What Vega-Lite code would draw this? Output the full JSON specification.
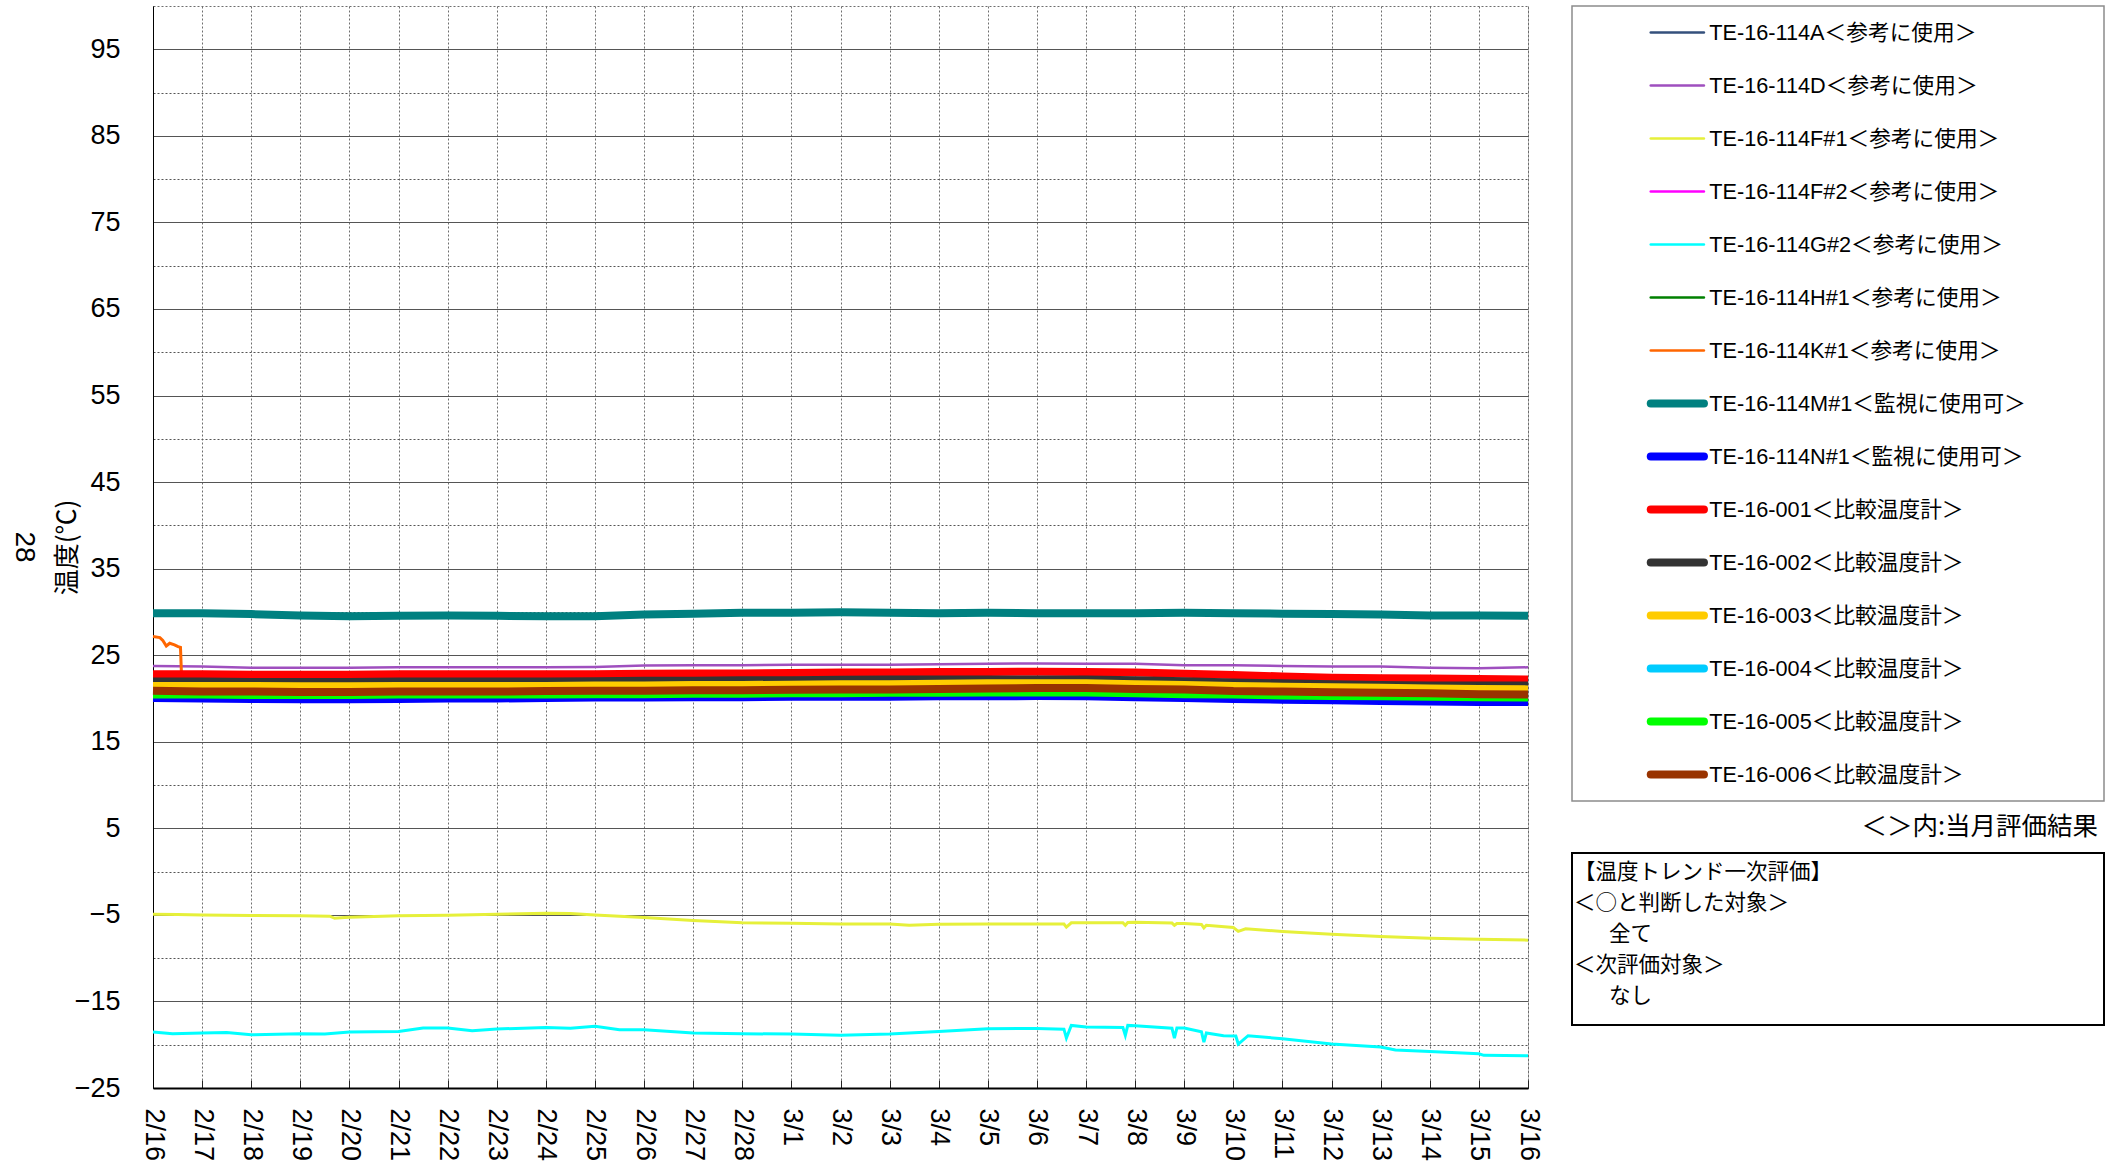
{
  "$schema": "https://vega.github.io/schema/vega-lite/v6.json",
  "description": "Temperature trend 2/16-3/16 for TE-16 thermometers, with legend and evaluation note.",
  "padding": {"left": 9, "top": 5, "right": 5, "bottom": 5},
  "background": "white",
  "config": {
    "font": "Liberation Sans, Noto Sans CJK JP, sans-serif",
    "view": {"stroke": null}
  },
  "datasets": {
    "band": [
      {"t": "2023-02-16T00:00", "M1": 29.85, "D": 23.75, "c1": 22.8, "c2": 21.95, "c3": 21.45, "c6": 20.9, "c5": 20.45, "N1": 20.05, "c4": 20.85, "A": 21.9, "F2": 21.6, "H1": 20.5},
      {"t": "2023-02-17T00:00", "M1": 29.85, "D": 23.7, "c1": 22.8, "c2": 21.95, "c3": 21.45, "c6": 20.8, "c5": 20.45, "N1": 20.0, "c4": 20.8, "A": 21.9, "F2": 21.55, "H1": 20.45},
      {"t": "2023-02-18T00:00", "M1": 29.75, "D": 23.55, "c1": 22.75, "c2": 21.9, "c3": 21.45, "c6": 20.8, "c5": 20.4, "N1": 19.95, "c4": 20.8, "A": 21.85, "F2": 21.55, "H1": 20.4},
      {"t": "2023-02-19T00:00", "M1": 29.6, "D": 23.55, "c1": 22.75, "c2": 21.9, "c3": 21.4, "c6": 20.75, "c5": 20.4, "N1": 19.9, "c4": 20.75, "A": 21.85, "F2": 21.5, "H1": 20.4},
      {"t": "2023-02-20T00:00", "M1": 29.5, "D": 23.55, "c1": 22.75, "c2": 21.9, "c3": 21.4, "c6": 20.75, "c5": 20.4, "N1": 19.9, "c4": 20.75, "A": 21.85, "F2": 21.5, "H1": 20.4},
      {"t": "2023-02-21T00:00", "M1": 29.55, "D": 23.6, "c1": 22.8, "c2": 21.95, "c3": 21.45, "c6": 20.8, "c5": 20.45, "N1": 19.95, "c4": 20.8, "A": 21.9, "F2": 21.55, "H1": 20.45},
      {"t": "2023-02-22T00:00", "M1": 29.6, "D": 23.6, "c1": 22.8, "c2": 21.95, "c3": 21.45, "c6": 20.8, "c5": 20.45, "N1": 20.0, "c4": 20.8, "A": 21.9, "F2": 21.55, "H1": 20.45},
      {"t": "2023-02-23T00:00", "M1": 29.55, "D": 23.6, "c1": 22.8, "c2": 21.95, "c3": 21.45, "c6": 20.8, "c5": 20.45, "N1": 20.0, "c4": 20.8, "A": 21.9, "F2": 21.55, "H1": 20.45},
      {"t": "2023-02-24T00:00", "M1": 29.5, "D": 23.6, "c1": 22.8, "c2": 21.95, "c3": 21.45, "c6": 20.85, "c5": 20.45, "N1": 20.05, "c4": 20.85, "A": 21.9, "F2": 21.55, "H1": 20.45},
      {"t": "2023-02-25T00:00", "M1": 29.5, "D": 23.65, "c1": 22.8, "c2": 21.98, "c3": 21.5, "c6": 20.9, "c5": 20.5, "N1": 20.1, "c4": 20.9, "A": 21.95, "F2": 21.6, "H1": 20.5},
      {"t": "2023-02-26T00:00", "M1": 29.7, "D": 23.8, "c1": 22.85, "c2": 22.05, "c3": 21.5, "c6": 20.9, "c5": 20.5, "N1": 20.1, "c4": 20.9, "A": 22.0, "F2": 21.6, "H1": 20.5},
      {"t": "2023-02-27T00:00", "M1": 29.8, "D": 23.85, "c1": 22.9, "c2": 22.05, "c3": 21.55, "c6": 20.95, "c5": 20.55, "N1": 20.15, "c4": 20.95, "A": 22.0, "F2": 21.65, "H1": 20.55},
      {"t": "2023-02-28T00:00", "M1": 29.9, "D": 23.85, "c1": 22.9, "c2": 22.1, "c3": 21.55, "c6": 20.95, "c5": 20.55, "N1": 20.15, "c4": 20.95, "A": 22.05, "F2": 21.65, "H1": 20.55},
      {"t": "2023-03-01T00:00", "M1": 29.9, "D": 23.9, "c1": 22.95, "c2": 22.1, "c3": 21.6, "c6": 21.0, "c5": 20.6, "N1": 20.2, "c4": 21.0, "A": 22.05, "F2": 21.7, "H1": 20.6},
      {"t": "2023-03-02T00:00", "M1": 29.95, "D": 23.9, "c1": 23.0, "c2": 22.15, "c3": 21.65, "c6": 21.05, "c5": 20.6, "N1": 20.2, "c4": 21.05, "A": 22.1, "F2": 21.75, "H1": 20.6},
      {"t": "2023-03-03T00:00", "M1": 29.9, "D": 23.9, "c1": 23.0, "c2": 22.2, "c3": 21.65, "c6": 21.05, "c5": 20.65, "N1": 20.2, "c4": 21.05, "A": 22.15, "F2": 21.75, "H1": 20.65},
      {"t": "2023-03-04T00:00", "M1": 29.85, "D": 23.95, "c1": 23.05, "c2": 22.2, "c3": 21.7, "c6": 21.1, "c5": 20.65, "N1": 20.25, "c4": 21.1, "A": 22.15, "F2": 21.8, "H1": 20.65},
      {"t": "2023-03-05T00:00", "M1": 29.9, "D": 24.0, "c1": 23.05, "c2": 22.2, "c3": 21.75, "c6": 21.15, "c5": 20.7, "N1": 20.25, "c4": 21.15, "A": 22.15, "F2": 21.85, "H1": 20.7},
      {"t": "2023-03-06T00:00", "M1": 29.85, "D": 24.05, "c1": 23.1, "c2": 22.2, "c3": 21.75, "c6": 21.2, "c5": 20.7, "N1": 20.28, "c4": 21.2, "A": 22.15, "F2": 21.85, "H1": 20.7},
      {"t": "2023-03-07T00:00", "M1": 29.85, "D": 24.0, "c1": 23.07, "c2": 22.2, "c3": 21.75, "c6": 21.2, "c5": 20.7, "N1": 20.25, "c4": 21.2, "A": 22.15, "F2": 21.85, "H1": 20.7},
      {"t": "2023-03-08T00:00", "M1": 29.85, "D": 24.0, "c1": 23.0, "c2": 22.1, "c3": 21.65, "c6": 21.1, "c5": 20.6, "N1": 20.15, "c4": 21.1, "A": 22.05, "F2": 21.75, "H1": 20.6},
      {"t": "2023-03-09T00:00", "M1": 29.9, "D": 23.85, "c1": 22.85, "c2": 22.0, "c3": 21.55, "c6": 21.05, "c5": 20.5, "N1": 20.05, "c4": 21.05, "A": 21.95, "F2": 21.65, "H1": 20.5},
      {"t": "2023-03-10T00:00", "M1": 29.85, "D": 23.85, "c1": 22.7, "c2": 21.85, "c3": 21.45, "c6": 20.85, "c5": 20.45, "N1": 19.95, "c4": 20.85, "A": 21.8, "F2": 21.55, "H1": 20.45},
      {"t": "2023-03-11T00:00", "M1": 29.8, "D": 23.75, "c1": 22.55, "c2": 21.75, "c3": 21.35, "c6": 20.8, "c5": 20.35, "N1": 19.85, "c4": 20.8, "A": 21.7, "F2": 21.45, "H1": 20.35},
      {"t": "2023-03-12T00:00", "M1": 29.75, "D": 23.7, "c1": 22.4, "c2": 21.65, "c3": 21.3, "c6": 20.72, "c5": 20.3, "N1": 19.8, "c4": 20.72, "A": 21.6, "F2": 21.4, "H1": 20.3},
      {"t": "2023-03-13T00:00", "M1": 29.7, "D": 23.7, "c1": 22.35, "c2": 21.55, "c3": 21.25, "c6": 20.65, "c5": 20.25, "N1": 19.7, "c4": 20.65, "A": 21.5, "F2": 21.35, "H1": 20.25},
      {"t": "2023-03-14T00:00", "M1": 29.6, "D": 23.55, "c1": 22.3, "c2": 21.5, "c3": 21.15, "c6": 20.6, "c5": 20.2, "N1": 19.65, "c4": 20.6, "A": 21.45, "F2": 21.25, "H1": 20.2},
      {"t": "2023-03-15T00:00", "M1": 29.6, "D": 23.5, "c1": 22.25, "c2": 21.5, "c3": 21.1, "c6": 20.5, "c5": 20.15, "N1": 19.6, "c4": 20.5, "A": 21.45, "F2": 21.2, "H1": 20.15},
      {"t": "2023-03-16T00:00", "M1": 29.55, "D": 23.6, "c1": 22.2, "c2": 21.5, "c3": 21.05, "c6": 20.45, "c5": 20.1, "N1": 19.6, "c4": 20.45, "A": 21.45, "F2": 21.15, "H1": 20.1}
    ],
    "low": [
      {"t": "2023-02-16T00:00", "s": "F1", "v": -4.92},
      {"t": "2023-02-16T12:00", "s": "F1", "v": -4.95},
      {"t": "2023-02-17T00:00", "s": "F1", "v": -5.0},
      {"t": "2023-02-18T00:00", "s": "F1", "v": -5.08},
      {"t": "2023-02-19T00:00", "s": "F1", "v": -5.1},
      {"t": "2023-02-19T14:24", "s": "F1", "v": -5.15},
      {"t": "2023-02-19T16:48", "s": "F1", "v": -5.4},
      {"t": "2023-02-19T21:36", "s": "F1", "v": -5.3},
      {"t": "2023-02-20T00:00", "s": "F1", "v": -5.27},
      {"t": "2023-02-21T00:00", "s": "F1", "v": -5.1},
      {"t": "2023-02-22T00:00", "s": "F1", "v": -5.05},
      {"t": "2023-02-23T00:00", "s": "F1", "v": -4.92},
      {"t": "2023-02-24T00:00", "s": "F1", "v": -4.8},
      {"t": "2023-02-24T12:00", "s": "F1", "v": -4.85},
      {"t": "2023-02-25T00:00", "s": "F1", "v": -5.0},
      {"t": "2023-02-26T00:00", "s": "F1", "v": -5.3},
      {"t": "2023-02-27T00:00", "s": "F1", "v": -5.65},
      {"t": "2023-02-28T00:00", "s": "F1", "v": -5.9},
      {"t": "2023-03-01T00:00", "s": "F1", "v": -5.96},
      {"t": "2023-03-02T00:00", "s": "F1", "v": -6.04},
      {"t": "2023-03-03T00:00", "s": "F1", "v": -6.04},
      {"t": "2023-03-03T09:36", "s": "F1", "v": -6.19},
      {"t": "2023-03-04T00:00", "s": "F1", "v": -6.08},
      {"t": "2023-03-05T00:00", "s": "F1", "v": -6.04},
      {"t": "2023-03-06T00:00", "s": "F1", "v": -6.04},
      {"t": "2023-03-06T13:12", "s": "F1", "v": -6.05},
      {"t": "2023-03-06T14:24", "s": "F1", "v": -6.42},
      {"t": "2023-03-06T16:48", "s": "F1", "v": -5.92},
      {"t": "2023-03-07T00:00", "s": "F1", "v": -5.92},
      {"t": "2023-03-07T18:00", "s": "F1", "v": -5.9},
      {"t": "2023-03-07T19:12", "s": "F1", "v": -6.2},
      {"t": "2023-03-07T20:24", "s": "F1", "v": -5.88},
      {"t": "2023-03-08T00:00", "s": "F1", "v": -5.85},
      {"t": "2023-03-08T18:00", "s": "F1", "v": -5.95},
      {"t": "2023-03-08T19:12", "s": "F1", "v": -6.2},
      {"t": "2023-03-08T20:24", "s": "F1", "v": -6.0},
      {"t": "2023-03-09T00:00", "s": "F1", "v": -6.0},
      {"t": "2023-03-09T08:24", "s": "F1", "v": -6.1},
      {"t": "2023-03-09T09:36", "s": "F1", "v": -6.5},
      {"t": "2023-03-09T10:48", "s": "F1", "v": -6.2},
      {"t": "2023-03-10T00:00", "s": "F1", "v": -6.46},
      {"t": "2023-03-10T02:24", "s": "F1", "v": -6.9},
      {"t": "2023-03-10T06:00", "s": "F1", "v": -6.6},
      {"t": "2023-03-11T00:00", "s": "F1", "v": -6.92},
      {"t": "2023-03-12T00:00", "s": "F1", "v": -7.23},
      {"t": "2023-03-13T00:00", "s": "F1", "v": -7.5},
      {"t": "2023-03-14T00:00", "s": "F1", "v": -7.69},
      {"t": "2023-03-15T00:00", "s": "F1", "v": -7.81},
      {"t": "2023-03-16T00:00", "s": "F1", "v": -7.92},
      {"t": "2023-02-16T00:00", "s": "G2", "v": -18.54},
      {"t": "2023-02-16T09:36", "s": "G2", "v": -18.73},
      {"t": "2023-02-17T00:00", "s": "G2", "v": -18.65},
      {"t": "2023-02-17T12:00", "s": "G2", "v": -18.58},
      {"t": "2023-02-18T00:00", "s": "G2", "v": -18.85},
      {"t": "2023-02-19T00:00", "s": "G2", "v": -18.73},
      {"t": "2023-02-19T12:00", "s": "G2", "v": -18.77},
      {"t": "2023-02-20T00:00", "s": "G2", "v": -18.54},
      {"t": "2023-02-21T00:00", "s": "G2", "v": -18.46},
      {"t": "2023-02-21T12:00", "s": "G2", "v": -18.08},
      {"t": "2023-02-22T00:00", "s": "G2", "v": -18.08},
      {"t": "2023-02-22T12:00", "s": "G2", "v": -18.38},
      {"t": "2023-02-23T00:00", "s": "G2", "v": -18.19},
      {"t": "2023-02-24T00:00", "s": "G2", "v": -18.0},
      {"t": "2023-02-24T12:00", "s": "G2", "v": -18.1},
      {"t": "2023-02-25T00:00", "s": "G2", "v": -17.88},
      {"t": "2023-02-25T12:00", "s": "G2", "v": -18.27},
      {"t": "2023-02-26T00:00", "s": "G2", "v": -18.27},
      {"t": "2023-02-27T00:00", "s": "G2", "v": -18.65},
      {"t": "2023-02-28T00:00", "s": "G2", "v": -18.73},
      {"t": "2023-03-01T00:00", "s": "G2", "v": -18.77},
      {"t": "2023-03-02T00:00", "s": "G2", "v": -18.92},
      {"t": "2023-03-03T00:00", "s": "G2", "v": -18.77},
      {"t": "2023-03-04T00:00", "s": "G2", "v": -18.46},
      {"t": "2023-03-05T00:00", "s": "G2", "v": -18.15},
      {"t": "2023-03-06T00:00", "s": "G2", "v": -18.12},
      {"t": "2023-03-06T13:12", "s": "G2", "v": -18.2},
      {"t": "2023-03-06T14:24", "s": "G2", "v": -19.23},
      {"t": "2023-03-06T16:48", "s": "G2", "v": -17.77},
      {"t": "2023-03-07T00:00", "s": "G2", "v": -17.96},
      {"t": "2023-03-07T18:00", "s": "G2", "v": -18.0},
      {"t": "2023-03-07T19:12", "s": "G2", "v": -18.92},
      {"t": "2023-03-07T20:24", "s": "G2", "v": -17.77},
      {"t": "2023-03-08T00:00", "s": "G2", "v": -17.81},
      {"t": "2023-03-08T18:00", "s": "G2", "v": -18.1},
      {"t": "2023-03-08T19:12", "s": "G2", "v": -19.23},
      {"t": "2023-03-08T20:24", "s": "G2", "v": -18.08},
      {"t": "2023-03-09T00:00", "s": "G2", "v": -18.08},
      {"t": "2023-03-09T08:24", "s": "G2", "v": -18.5},
      {"t": "2023-03-09T09:36", "s": "G2", "v": -19.69},
      {"t": "2023-03-09T10:48", "s": "G2", "v": -18.65},
      {"t": "2023-03-09T19:12", "s": "G2", "v": -18.96},
      {"t": "2023-03-10T01:12", "s": "G2", "v": -19.0},
      {"t": "2023-03-10T02:24", "s": "G2", "v": -19.92},
      {"t": "2023-03-10T07:12", "s": "G2", "v": -18.96},
      {"t": "2023-03-11T00:00", "s": "G2", "v": -19.31},
      {"t": "2023-03-12T00:00", "s": "G2", "v": -19.92},
      {"t": "2023-03-13T00:00", "s": "G2", "v": -20.27},
      {"t": "2023-03-13T07:12", "s": "G2", "v": -20.62},
      {"t": "2023-03-14T00:00", "s": "G2", "v": -20.77},
      {"t": "2023-03-15T00:00", "s": "G2", "v": -21.04},
      {"t": "2023-03-15T02:24", "s": "G2", "v": -21.23},
      {"t": "2023-03-16T00:00", "s": "G2", "v": -21.27},
      {"t": "2023-02-16T00:00", "s": "K1", "v": 27.15},
      {"t": "2023-02-16T03:22", "s": "K1", "v": 27.03},
      {"t": "2023-02-16T04:48", "s": "K1", "v": 26.7},
      {"t": "2023-02-16T06:30", "s": "K1", "v": 26.07},
      {"t": "2023-02-16T08:10", "s": "K1", "v": 26.38},
      {"t": "2023-02-16T10:30", "s": "K1", "v": 26.2},
      {"t": "2023-02-16T12:15", "s": "K1", "v": 25.99},
      {"t": "2023-02-16T13:26", "s": "K1", "v": 25.9},
      {"t": "2023-02-16T13:55", "s": "K1", "v": 22.8},
      {"t": "2023-02-17T00:00", "s": "K1", "v": 22.8},
      {"t": "2023-02-21T00:00", "s": "K1", "v": 22.8},
      {"t": "2023-02-26T00:00", "s": "K1", "v": 22.85},
      {"t": "2023-03-03T00:00", "s": "K1", "v": 22.95},
      {"t": "2023-03-08T00:00", "s": "K1", "v": 22.95},
      {"t": "2023-03-13T00:00", "s": "K1", "v": 22.35},
      {"t": "2023-03-16T00:00", "s": "K1", "v": 22.2}
    ],
    "legend": [
      {"s": "A", "label": "TE-16-114A＜参考に使用＞"},
      {"s": "D", "label": "TE-16-114D＜参考に使用＞"},
      {"s": "F1", "label": "TE-16-114F#1＜参考に使用＞"},
      {"s": "F2", "label": "TE-16-114F#2＜参考に使用＞"},
      {"s": "G2", "label": "TE-16-114G#2＜参考に使用＞"},
      {"s": "H1", "label": "TE-16-114H#1＜参考に使用＞"},
      {"s": "K1", "label": "TE-16-114K#1＜参考に使用＞"},
      {"s": "M1", "label": "TE-16-114M#1＜監視に使用可＞"},
      {"s": "N1", "label": "TE-16-114N#1＜監視に使用可＞"},
      {"s": "c1", "label": "TE-16-001＜比較温度計＞"},
      {"s": "c2", "label": "TE-16-002＜比較温度計＞"},
      {"s": "c3", "label": "TE-16-003＜比較温度計＞"},
      {"s": "c4", "label": "TE-16-004＜比較温度計＞"},
      {"s": "c5", "label": "TE-16-005＜比較温度計＞"},
      {"s": "c6", "label": "TE-16-006＜比較温度計＞"}
    ],
    "note": [
      {"n": 1, "line": "【温度トレンド一次評価】"},
      {"n": 2, "line": "＜○と判断した対象＞"},
      {"n": 3, "line": "全て"},
      {"n": 4, "line": "＜次評価対象＞"},
      {"n": 5, "line": "なし"}
    ]
  },
  "bounds": "flush",
  "spacing": 44,
  "resolve": {"scale": {"x": "independent", "y": "independent", "color": "shared"}},
  "hconcat": [
    {
      "width": 1375,
      "height": 1082,
      "view": {"stroke": "#6e6e6e", "strokeWidth": 1, "strokeDash": [2, 2]},
      "title": {
        "text": "28",
        "orient": "left",
        "angle": 90,
        "baseline": "top",
        "frame": "group",
        "anchor": "middle",
        "fontSize": 28,
        "fontWeight": "normal",
        "color": "black",
        "offset": -12
      },
      "encoding": {
        "x": {
          "field": "t",
          "type": "temporal",
          "scale": {"domain": [{"year": 2023, "month": 2, "date": 16}, {"year": 2023, "month": 3, "date": 16}]},
          "axis": {
            "title": null,
            "format": "%-m/%-d",
            "tickCount": {"interval": "day", "step": 1},
            "labelAngle": 90,
            "labelAlign": "left",
            "labelBaseline": "middle",
            "labelFontSize": 27,
            "labelColor": "black",
            "labelPadding": 28,
            "labelOverlap": false,
            "labelFlush": false,
            "ticks": true,
            "tickSize": -8,
            "tickColor": "#222222",
            "tickWidth": 1,
            "grid": true,
            "gridColor": "#6e6e6e",
            "gridDash": [2, 2],
            "gridWidth": 1,
            "domainColor": "black",
            "domainWidth": 2
          }
        },
        "y": {
          "field": "v",
          "type": "quantitative",
          "scale": {"domain": [-25, 100], "nice": false, "zero": false},
          "axis": {
            "title": "温度(℃)",
            "titleFont": "Noto Sans CJK JP",
            "titleFontSize": 26,
            "titleFontWeight": "normal",
            "titleColor": "black",
            "titlePadding": -6,
            "values": [-25, -20, -15, -10, -5, 0, 5, 10, 15, 20, 25, 30, 35, 40, 45, 50, 55, 60, 65, 70, 75, 80, 85, 90, 95],
            "labelExpr": "datum.value % 10 == 0 ? '' : datum.label",
            "labelFontSize": 27,
            "labelColor": "black",
            "labelPadding": 33,
            "labelOverlap": false,
            "labelFlush": false,
            "ticks": false,
            "grid": true,
            "gridColor": "#555555",
            "gridWidth": 1,
            "gridDash": {"condition": {"test": "datum.value % 10 == 0", "value": [2, 2]}, "value": []},
            "domainColor": "black",
            "domainWidth": 1
          }
        },
        "color": {
          "field": "s",
          "type": "nominal",
          "scale": {
            "domain": ["A", "D", "F1", "F2", "G2", "H1", "K1", "M1", "N1", "c1", "c2", "c3", "c4", "c5", "c6"],
            "range": ["#34507c", "#9f4fbf", "#e6f03a", "#ff00ff", "#00ffff", "#008000", "#ff6600", "#008080", "#0000ff", "#ff0000", "#333333", "#ffcc00", "#00ccff", "#00ff00", "#993300"]
          },
          "legend": null
        }
      },
      "layer": [
        {
          "data": {"name": "band"},
          "transform": [{"fold": ["A", "H1", "F2", "D"], "as": ["s", "v"]}],
          "mark": {"type": "line", "strokeWidth": 2.5},
          "encoding": {}
        },
        {
          "data": {"name": "low"},
          "mark": {"type": "line", "strokeWidth": 3},
          "encoding": {}
        },
        {
          "data": {"name": "band"},
          "transform": [{"fold": ["M1", "N1", "c1", "c2", "c4", "c3", "c5", "c6"], "as": ["s", "v"]}],
          "mark": {"type": "line", "strokeWidth": 8},
          "encoding": {}
        }
      ]
    },
    {
      "bounds": "flush",
      "spacing": 52,
      "resolve": {"scale": {"x": "independent", "y": "independent"}},
      "vconcat": [
        {
          "width": 532,
          "height": 795,
          "data": {"name": "legend"},
          "view": {"stroke": "#8c8c8c", "strokeWidth": 1.5},
          "encoding": {
            "y": {"field": "s", "type": "nominal", "sort": null, "scale": {"type": "point", "padding": 0.5}, "axis": null}
          },
          "layer": [
            {
              "mark": {"type": "rule", "strokeCap": "round"},
              "encoding": {
                "x": {"datum": 14.8, "type": "quantitative", "scale": {"domain": [0, 100]}, "axis": null},
                "x2": {"datum": 24.8},
                "color": {"field": "s", "type": "nominal", "legend": null},
                "strokeWidth": {"condition": {"test": "indexof(datum.label, '参考') >= 0", "value": 2.5}, "value": 8}
              }
            },
            {
              "mark": {"type": "text", "align": "left", "baseline": "middle", "fontSize": 21.7, "color": "black", "font": "Liberation Sans, Noto Sans CJK JP, sans-serif"},
              "encoding": {
                "x": {"datum": 25.8, "type": "quantitative", "scale": {"domain": [0, 100]}, "axis": null},
                "text": {"field": "label"}
              }
            }
          ]
        },
        {
          "width": 532,
          "height": 172,
          "data": {"name": "note"},
          "view": {"stroke": "black", "strokeWidth": 2},
          "title": {
            "text": "＜＞内:当月評価結果",
            "anchor": "end",
            "fontSize": 25.5,
            "fontWeight": "normal",
            "font": "Noto Sans CJK JP",
            "color": "black",
            "offset": 13,
            "dx": -6
          },
          "encoding": {
            "y": {"field": "n", "type": "ordinal", "scale": {"type": "point", "padding": 0.774, "align": 0.417}, "axis": null},
            "text": {"field": "line"}
          },
          "layer": [
            {
              "transform": [{"filter": "indexof('＜【', substring(datum.line, 0, 1)) >= 0"}],
              "mark": {"type": "text", "align": "left", "baseline": "middle", "fontSize": 21.5, "color": "black", "font": "Noto Sans CJK JP", "dx": 2},
              "encoding": {
                "x": {"datum": 0, "type": "quantitative", "scale": {"domain": [0, 100]}, "axis": null}
              }
            },
            {
              "transform": [{"filter": "indexof('＜【', substring(datum.line, 0, 1)) < 0"}],
              "mark": {"type": "text", "align": "left", "baseline": "middle", "fontSize": 21.5, "color": "black", "font": "Noto Sans CJK JP", "dx": 2},
              "encoding": {
                "x": {"datum": 6.6, "type": "quantitative", "scale": {"domain": [0, 100]}, "axis": null}
              }
            }
          ]
        }
      ]
    }
  ]
}
